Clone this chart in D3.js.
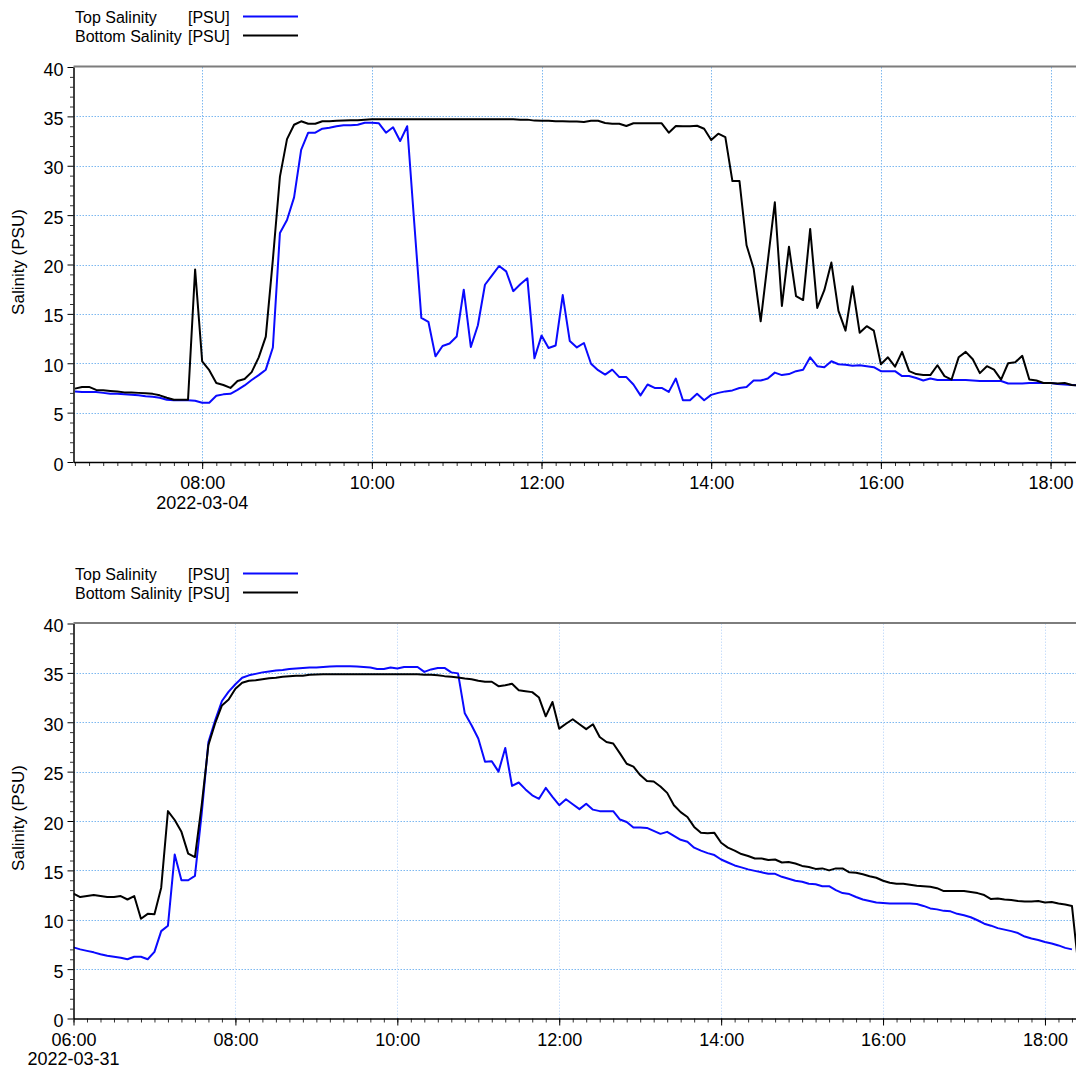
<!DOCTYPE html>
<html><head><meta charset="utf-8">
<script src="https://cdn.jsdelivr.net/npm/d3@7"></script>
<style>
body{margin:0;background:#fff;}
svg text{font-family:"Liberation Sans",Arial,Helvetica,sans-serif;fill:#000;}
</style>
</head><body>
<svg id="c" width="1076" height="1068"></svg>
<script>
// ---------------- DATA ----------------
const seriesNames = ["Top Salinity", "Bottom Salinity"];
const seriesUnit = "[PSU]";
const seriesColors = ["#0a0aff", "#000000"];
const yAxisTitle = "Salinity (PSU)";
const yMajorTicks = [0, 5, 10, 15, 20, 25, 30, 35, 40];
const sampleStepMinutes = 5;

// Panel 1: 2022-03-04, samples every 5 min starting 06:30
const panel1Start = "2022-03-04 06:30";
const panel1Domain = ["2022-03-04 06:29", "2022-03-04 18:18"];
const panel1Top = [
  7.15,7.1,7.1,7.1,7.0,6.9,6.9,6.85,6.8,6.75,6.65,6.6,6.5,6.3,6.25,6.25,6.25,6.2,
  6.0,6.0,6.7,6.85,6.9,7.3,7.75,8.3,8.8,9.35,11.6,23.2,
  24.5,26.8,31.6,33.35,33.35,33.75,33.85,34.0,34.1,34.1,34.15,34.35,
  34.35,34.3,33.35,33.9,32.5,34.0,24.2,14.6,14.2,10.7,11.75,12.0,
  12.7,17.45,11.65,13.85,17.95,18.9,19.85,19.3,17.3,18.0,18.6,10.5,
  12.8,11.55,11.8,16.9,12.25,11.6,12.05,9.95,9.3,8.85,9.35,8.6,
  8.6,7.85,6.75,7.85,7.5,7.5,7.1,8.45,6.25,6.25,6.9,6.25,
  6.8,7.0,7.15,7.25,7.5,7.6,8.25,8.25,8.45,9.05,8.8,8.9,
  9.2,9.35,10.6,9.7,9.6,10.2,9.9,9.85,9.75,9.8,9.7,9.6,
  9.2,9.2,9.2,8.7,8.7,8.5,8.25,8.45,8.3,8.3,8.3,8.3,
  8.3,8.25,8.2,8.2,8.2,8.2,7.95,7.95,7.95,8.0,8.0,8.0,
  8.0,7.9,7.85,7.8,7.75
];
const panel1Bottom = [
  7.43,7.6,7.6,7.3,7.26,7.2,7.15,7.05,7.05,7.0,6.95,6.9,6.75,6.5,6.3,6.3,6.3,19.5,
  10.2,9.3,8.0,7.8,7.5,8.2,8.4,9.1,10.6,12.7,20.5,28.9,
  32.7,34.15,34.5,34.25,34.25,34.5,34.5,34.55,34.57,34.6,34.6,34.67,
  34.7,34.7,34.7,34.7,34.7,34.7,34.7,34.7,34.7,34.7,34.7,34.7,
  34.7,34.7,34.7,34.7,34.7,34.7,34.7,34.7,34.7,34.67,34.67,34.57,
  34.55,34.55,34.5,34.5,34.47,34.47,34.43,34.55,34.55,34.33,34.26,34.26,
  34.02,34.3,34.3,34.3,34.3,34.3,33.35,34.02,34.0,34.0,34.05,33.75,
  32.6,33.25,32.9,28.45,28.45,21.95,19.6,14.25,20.3,26.3,15.8,21.8,
  16.8,16.4,23.6,15.6,17.4,20.2,15.3,13.3,17.8,13.1,13.75,13.3,
  9.9,10.6,9.65,11.15,9.2,8.9,8.8,8.8,9.8,8.7,8.35,10.6,
  11.15,10.4,9.0,9.7,9.35,8.35,10.0,10.1,10.75,8.35,8.25,8.0,
  8.0,7.95,8.0,7.8,7.75
];

// Panel 2: 2022-03-31, samples every 5 min starting 06:00
const panel2Start = "2022-03-31 06:00";
const panel2Domain = ["2022-03-31 06:00", "2022-03-31 18:23"];
const panel2Top = [
  7.2,7.0,6.85,6.7,6.5,6.35,6.25,6.15,6.0,6.25,6.25,6.0,
  6.75,8.85,9.4,16.6,14.0,14.0,14.45,20.75,28.0,30.2,32.15,33.1,
  33.85,34.5,34.75,34.9,35.05,35.15,35.25,35.3,35.4,35.45,35.5,35.55,
  35.55,35.6,35.65,35.67,35.67,35.67,35.65,35.6,35.55,35.4,35.4,35.55,
  35.45,35.6,35.6,35.6,35.1,35.35,35.5,35.5,35.05,34.95,30.9,29.7,
  28.35,26.0,26.05,25.0,27.4,23.55,23.9,23.2,22.6,22.25,23.35,22.45,
  21.6,22.2,21.7,21.2,21.75,21.15,21.0,21.0,21.0,20.15,19.9,19.35,
  19.35,19.3,19.0,18.7,18.9,18.5,18.1,17.9,17.3,17.0,16.75,16.55,
  16.1,15.8,15.5,15.3,15.1,14.95,14.8,14.65,14.65,14.35,14.15,13.95,
  13.85,13.65,13.6,13.4,13.4,13.0,12.7,12.6,12.3,12.05,11.9,11.75,
  11.7,11.65,11.65,11.65,11.65,11.6,11.4,11.15,11.05,10.9,10.85,10.6,
  10.45,10.25,9.95,9.6,9.4,9.15,9.0,8.85,8.65,8.3,8.1,7.95,
  7.75,7.6,7.4,7.15,7.0
];
const panel2Bottom = [
  12.65,12.3,12.4,12.5,12.4,12.3,12.3,12.4,12.05,12.4,10.1,10.6,
  10.55,13.25,21.0,20.1,18.9,16.7,16.35,21.6,27.7,29.9,31.7,32.3,
  33.4,34.0,34.2,34.25,34.35,34.45,34.5,34.6,34.65,34.7,34.72,34.8,
  34.83,34.86,34.86,34.86,34.86,34.86,34.86,34.86,34.86,34.86,34.86,34.86,
  34.86,34.86,34.86,34.85,34.8,34.8,34.77,34.67,34.6,34.53,34.43,34.36,
  34.2,34.1,34.1,33.65,33.75,33.9,33.25,33.15,33.05,32.5,30.6,32.05,
  29.35,29.85,30.3,29.8,29.3,29.8,28.5,28.0,27.85,26.85,25.8,25.5,
  24.65,24.05,24.0,23.5,22.85,21.6,20.9,20.4,19.4,18.8,18.75,18.8,
  17.8,17.3,17.0,16.65,16.45,16.2,16.2,16.05,16.1,15.8,15.85,15.7,
  15.45,15.35,15.15,15.2,15.0,15.2,15.2,14.8,14.75,14.6,14.4,14.25,
  13.95,13.75,13.65,13.65,13.55,13.45,13.4,13.35,13.2,12.9,12.9,12.9,
  12.9,12.8,12.7,12.5,12.1,12.15,12.05,12.0,11.9,11.85,11.85,11.9,
  11.75,11.8,11.65,11.55,11.4,5.0
];

// ---------------- DRAWING ----------------
const svg = d3.select("#c");
const W = 1076;
const parse = d3.timeParse("%Y-%m-%d %H:%M");
const fmtTime = d3.timeFormat("%H:%M");
const fmtDate = d3.timeFormat("%Y-%m-%d");
const gridColor = "#7db8f0";

function series(start, values) {
  const t0 = parse(start);
  return values.map((v, i) => ({t: d3.timeMinute.offset(t0, i * sampleStepMinutes), v}));
}

function drawPanel(cfg, idx) {
  const g = svg.append("g");
  const x = d3.scaleTime().domain(cfg.domain.map(parse)).range([cfg.left, W]);
  const y = d3.scaleLinear().domain([0, 40]).range([cfg.bottom, cfg.top]);

  // legend
  const lg = g.append("g");
  seriesNames.forEach((name, i) => {
    const by = cfg.legendY + i * 19;
    lg.append("text").attr("x", 75).attr("y", by).attr("font-size", 16).text(name);
    lg.append("text").attr("x", 188).attr("y", by).attr("font-size", 16).text(seriesUnit);
    lg.append("line").attr("x1", 243).attr("x2", 298).attr("y1", by - 6.5).attr("y2", by - 6.5)
      .attr("stroke", seriesColors[i]).attr("stroke-width", 2);
  });

  // horizontal grid
  g.append("g").selectAll("line").data(yMajorTicks.filter(v => v > 0 && v < 40)).join("line")
    .attr("x1", cfg.left).attr("x2", W)
    .attr("y1", d => Math.round(y(d)) + 0.5).attr("y2", d => Math.round(y(d)) + 0.5)
    .attr("stroke", gridColor).attr("stroke-width", 1).attr("stroke-dasharray", "1.5,1.5");

  // vertical grid
  const majors = x.ticks(d3.timeHour.every(2)).filter(d => x(d) > cfg.left + 2);
  g.append("g").selectAll("line").data(majors).join("line")
    .attr("x1", d => Math.round(x(d)) + 0.5).attr("x2", d => Math.round(x(d)) + 0.5)
    .attr("y1", cfg.top).attr("y2", cfg.bottom)
    .attr("stroke", cfg.vGridColor).attr("stroke-width", 1).attr("stroke-dasharray", "1.5,1.5");

  // clip
  const cid = "clip" + idx;
  svg.append("defs").append("clipPath").attr("id", cid)
    .append("rect").attr("x", cfg.left).attr("y", cfg.top - 2).attr("width", W - cfg.left).attr("height", cfg.bottom - cfg.top + 2);

  // lines
  const line = d3.line().x(d => x(d.t)).y(d => y(d.v));
  const data = [series(cfg.start, cfg.topVals), series(cfg.start, cfg.botVals)];
  const lines = g.append("g").attr("clip-path", `url(#${cid})`);
  [0, 1].forEach(i => {
    lines.append("path").datum(data[i]).attr("d", line).attr("fill", "none")
      .attr("stroke", seriesColors[i]).attr("stroke-width", 2).attr("stroke-linejoin", "round");
  });

  // top border
  g.append("line").attr("x1", cfg.left).attr("x2", W).attr("y1", cfg.top - 0.5).attr("y2", cfg.top - 0.5)
    .attr("stroke", "#7d7d7d").attr("stroke-width", 2);

  // y axis
  const yMinor = d3.range(0, 41, 1).filter(v => v % 5 !== 0);
  const yMinorAxis = d3.axisLeft(y).tickValues(yMinor).tickSize(3.5).tickFormat("");
  g.append("g").attr("transform", `translate(${cfg.left},0)`).call(yMinorAxis)
    .call(s => s.select(".domain").remove())
    .call(s => s.selectAll("line").attr("stroke", "#333"));
  const yAxis = d3.axisLeft(y).tickValues(yMajorTicks).tickSize(6).tickPadding(4).tickSizeOuter(0);
  const ya = g.append("g").attr("transform", `translate(${cfg.left},0)`).call(yAxis);
  ya.select(".domain").attr("stroke", "#000").attr("stroke-width", 1.5);
  ya.selectAll("text").attr("font-size", 18).attr("font-family", "Liberation Sans, Arial, sans-serif").attr("dy", "0.45em").attr("fill", "#000");

  // x axis
  const xMinorAxis = d3.axisBottom(x).ticks(d3.timeMinute.every(10)).tickSize(4).tickFormat("");
  g.append("g").attr("transform", `translate(0,${cfg.bottom})`).call(xMinorAxis)
    .call(s => s.select(".domain").remove())
    .call(s => s.selectAll("line").attr("stroke", "#333"));
  const xAxis = d3.axisBottom(x).ticks(d3.timeHour.every(2)).tickFormat(fmtTime).tickSize(7).tickSizeOuter(0);
  const xa = g.append("g").attr("transform", `translate(0,${cfg.bottom})`).call(xAxis);
  xa.select(".domain").attr("stroke", "#000").attr("stroke-width", 1.5);
  xa.selectAll("text").attr("font-size", 18).attr("font-family", "Liberation Sans, Arial, sans-serif")
    .attr("y", 27).attr("dy", 0).attr("fill", "#000");

  // date label under first major tick
  const first = x.ticks(d3.timeHour.every(2))[0];
  g.append("text").attr("x", x(first)).attr("y", cfg.bottom + 46.5).attr("text-anchor", "middle")
    .attr("font-size", 18).text(fmtDate(first));

  // y axis title
  g.append("text").attr("transform", `translate(24,${cfg.titleY}) rotate(-90)`)
    .attr("text-anchor", "middle").attr("font-size", 17).text(yAxisTitle);
}

drawPanel({start: panel1Start, domain: panel1Domain, topVals: panel1Top, botVals: panel1Bottom,
  left: 73.5, top: 67, bottom: 462, legendY: 23, titleY: 262, vGridColor: gridColor}, 1);
drawPanel({start: panel2Start, domain: panel2Domain, topVals: panel2Top, botVals: panel2Bottom,
  left: 73.5, top: 623.5, bottom: 1018.5, legendY: 580, titleY: 818, vGridColor: "#c9defa"}, 2);
</script>
</body></html>
